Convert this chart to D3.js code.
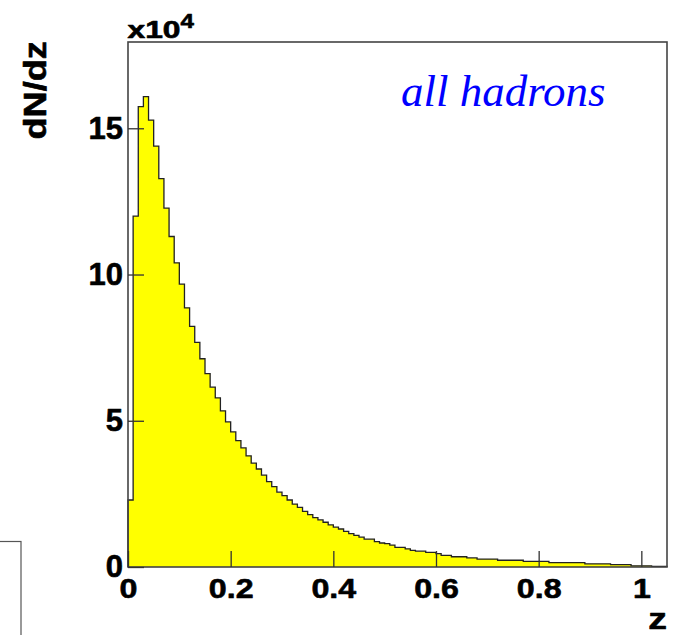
<!DOCTYPE html>
<html>
<head>
<meta charset="utf-8">
<script src="https://cdn.jsdelivr.net/npm/d3@7"></script>
<style>
  html, body { margin: 0; padding: 0; background: #fff; }
  svg { display: block; }
</style>
</head>
<body>
<svg id="chart" width="679" height="635"></svg>
<script>
// ---- data (dN/dz in units of 10^4), bins of width 0.01 from z = 0 to 1.05 ----
const binEdgesStart = 0;
const binWidth = 0.01;
const counts = [
  2.29, 12.0, 15.74, 16.08, 15.28, 14.39, 13.28, 12.27, 11.30, 10.40,
  9.67, 8.86, 8.23, 7.68, 7.12, 6.61, 6.15, 5.78, 5.34, 4.96,
  4.62, 4.32, 4.07, 3.80, 3.55, 3.35, 3.14, 2.92, 2.75, 2.56,
  2.44, 2.29, 2.15, 2.04, 1.90, 1.79, 1.69, 1.61, 1.53, 1.44,
  1.36, 1.30, 1.22, 1.14, 1.08, 1.02, 0.95, 0.95, 0.87, 0.82,
  0.80, 0.75, 0.67, 0.67, 0.62, 0.57, 0.54, 0.54, 0.50, 0.50,
  0.46, 0.40, 0.40, 0.35, 0.35, 0.35, 0.31, 0.31, 0.27, 0.27,
  0.27, 0.27, 0.23, 0.23, 0.23, 0.23, 0.23, 0.19, 0.19, 0.19,
  0.19, 0.19, 0.15, 0.15, 0.15, 0.15, 0.15, 0.15, 0.15, 0.11,
  0.11, 0.11, 0.11, 0.11, 0.08, 0.08, 0.08, 0.08, 0.04, 0.04,
  0.04, 0.04, 0.02, 0.02, 0.02
];
const xTicks = [0, 0.2, 0.4, 0.6, 0.8, 1];
const xTickLabels = ["0", "0.2", "0.4", "0.6", "0.8", "1"];
const yTicks = [0, 5, 10, 15];
const yTickLabels = ["0", "5", "10", "15"];
const xDomain = [0, 1.05];
const yDomain = [0, 17.95];
const xTitle = "z";
const yTitle = "dN/dz";
const exponentBase = "x10";
const exponentPower = "4";
const annotation = "all hadrons";

// ---- layout ----
const frame = { left: 128, top: 42, right: 667, bottom: 567 };
const svg = d3.select("#chart");
const sans = "'Liberation Sans', Arial, Helvetica, sans-serif";
const serif = "'Liberation Serif', 'Times New Roman', serif";

const x = d3.scaleLinear().domain(xDomain).range([frame.left, frame.right]);
const y = d3.scaleLinear().domain(yDomain).range([frame.bottom, frame.top]);

function boldText(sel, size) {
  return sel.attr("font-family", sans).attr("font-weight", "bold")
    .attr("font-size", size).attr("fill", "#000")
    .attr("stroke", "#000").attr("stroke-width", 0.6)
    .attr("stroke-linejoin", "round");
}

// partial legend-box border at bottom-left
svg.append("rect")
  .attr("x", -2).attr("y", 541.5).attr("width", 23).attr("height", 120)
  .attr("fill", "#fff").attr("stroke", "#555").attr("stroke-width", 1.2);

// ---- histogram ----
const pts = [[binEdgesStart, 0]];
counts.forEach((c, i) => {
  const x0 = binEdgesStart + i * binWidth;
  pts.push([x0, c], [x0 + binWidth, c]);
});
pts.push([binEdgesStart + counts.length * binWidth, 0]);

const line = d3.line().x(d => x(d[0])).y(d => y(d[1]));
svg.append("path")
  .attr("d", line(pts) + "Z")
  .attr("fill", "#ffff00")
  .attr("stroke", "none");
svg.append("path")
  .attr("d", line(pts))
  .attr("fill", "none")
  .attr("stroke", "#222")
  .attr("stroke-width", 1.3);

// ---- frame ----
svg.append("rect")
  .attr("x", frame.left).attr("y", frame.top)
  .attr("width", frame.right - frame.left).attr("height", frame.bottom - frame.top)
  .attr("fill", "none").attr("stroke", "#444").attr("stroke-width", 1.6);

// ---- axes ----
const xAxis = d3.axisBottom(x)
  .tickValues(xTicks)
  .tickFormat((d, i) => xTickLabels[i])
  .tickSizeInner(-16).tickSizeOuter(0).tickPadding(11);
const gx = svg.append("g").attr("transform", `translate(0,${frame.bottom})`).call(xAxis);
gx.select(".domain").remove();
gx.selectAll(".tick line").attr("stroke", "#333").attr("stroke-width", 1.3);
boldText(gx.selectAll(".tick text"), 28)
  .attr("transform", "scale(1.15,1)");

const yAxis = d3.axisLeft(y)
  .tickValues(yTicks)
  .tickFormat((d, i) => yTickLabels[i])
  .tickSizeInner(-16).tickSizeOuter(0).tickPadding(5);
const gy = svg.append("g").attr("transform", `translate(${frame.left},0)`).call(yAxis);
gy.select(".domain").remove();
gy.selectAll(".tick line").attr("stroke", "#333").attr("stroke-width", 1.3);
boldText(gy.selectAll(".tick text"), 31);

// ---- titles ----
boldText(svg.append("text"), 32)
  .attr("transform", "translate(45.5,139.5) rotate(-90) scale(1.13,1)")
  .text(yTitle);

boldText(svg.append("text"), 29)
  .attr("transform", "translate(667,628.5) scale(1.29,1)")
  .attr("text-anchor", "end")
  .text(xTitle);

boldText(svg.append("text"), 23)
  .attr("transform", "translate(127.5,37.7) scale(1.38,1)")
  .text(exponentBase);
boldText(svg.append("text"), 21)
  .attr("transform", "translate(180.5,28.3) scale(1.15,1)")
  .text(exponentPower);

svg.append("text")
  .attr("x", 401).attr("y", 106)
  .attr("font-family", serif).attr("font-style", "italic").attr("font-size", 45)
  .attr("fill", "#0000ff")
  .text(annotation);
</script>
</body>
</html>
